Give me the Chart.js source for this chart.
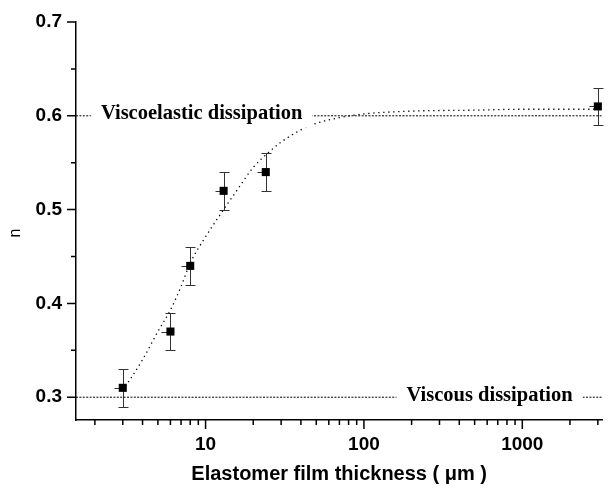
<!DOCTYPE html>
<html><head><meta charset="utf-8">
<script src="https://cdn.jsdelivr.net/npm/chart.js@4.4.0/dist/chart.umd.min.js"></script>
<style>html,body{margin:0;padding:0;background:#fff;overflow:hidden}</style>
</head><body>
<canvas id="c" width="608" height="489"></canvas>
<script>
// ---- data ----
const thickness = [3, 6, 8, 13, 24, 3000];
const nValues   = [0.31, 0.37, 0.44, 0.52, 0.54, 0.61];
const nErrors   = [0.02, 0.02, 0.02, 0.02, 0.02, 0.02];

const fitX = [3, 4, 5, 6, 7, 8, 10, 13, 16, 20, 25, 30, 40, 50, 70, 100, 200, 500, 1000, 3200];
const fitY = [0.307, 0.34, 0.37, 0.393, 0.418, 0.443, 0.471, 0.50, 0.522, 0.545, 0.561, 0.572, 0.585, 0.592, 0.598, 0.602, 0.605, 0.606, 0.607, 0.607];

const xMajorTicks = [10, 100, 1000];
const xMinorTicks = [2, 3, 4, 5, 6, 7, 8, 9, 20, 30, 40, 50, 60, 70, 80, 90, 200, 300, 400, 500, 600, 700, 800, 900, 2000, 3000];
const yMajorTicks = [0.3, 0.4, 0.5, 0.6, 0.7];
const yMinorTicks = [0.35, 0.45, 0.55, 0.65];

const refLevels = [0.6, 0.3];
const refLabels = ['Viscoelastic dissipation', 'Viscous dissipation'];
const refLabelAt = [9.44, 621];   // x value (data units) at which each label is centred

const xTitle = 'Elastomer film thickness ( μm )';
const yTitle = 'n';

const X_MIN = 1.52, X_MAX = 3200, Y_MIN = 0.2757, Y_MAX = 0.7;

// ---- plugin: error bars, reference labels, tick marks, y title ----
const decor = {
  id: 'decor',
  beforeDatasetsDraw(chart) {
    const {ctx, scales: {x, y}} = chart;
    ctx.save();
    ctx.strokeStyle = '#333';
    ctx.lineWidth = 1;
    thickness.forEach((t, i) => {
      const px = Math.round(x.getPixelForValue(t)) + 0.5;
      const py = y.getPixelForValue(nValues[i]);
      const top = Math.round(y.getPixelForValue(nValues[i] + nErrors[i])) + 0.5;
      const bot = Math.round(y.getPixelForValue(nValues[i] - nErrors[i])) + 0.5;
      ctx.beginPath();
      ctx.moveTo(px, top); ctx.lineTo(px, bot);
      ctx.moveTo(px - 5, top); ctx.lineTo(px + 5, top);
      ctx.moveTo(px - 5, bot); ctx.lineTo(px + 5, bot);
      ctx.moveTo(px - 9, Math.round(py) + 0.5); ctx.lineTo(px, Math.round(py) + 0.5);
      ctx.stroke();
    });
    ctx.restore();
  },
  afterDatasetsDraw(chart) {
    const {ctx, scales: {x, y}} = chart;
    ctx.save();
    ctx.font = 'bold 20.5px "Liberation Serif", "Times New Roman", serif';
    ctx.textAlign = 'center';
    ctx.textBaseline = 'alphabetic';
    refLabels.forEach((lab, i) => {
      const cx = x.getPixelForValue(refLabelAt[i]);
      const cy = y.getPixelForValue(refLevels[i]);
      const w = ctx.measureText(lab).width;
      ctx.fillStyle = '#fff';
      ctx.fillRect(cx - w / 2 - 10, cy - 12, w + 20, 24);
      ctx.fillStyle = '#000';
      ctx.fillText(lab, cx, cy + 3.5);
    });
    ctx.restore();
  },
  afterDraw(chart) {
    const {ctx, scales: {x, y}, chartArea: a} = chart;
    ctx.save();
    ctx.strokeStyle = '#000';
    ctx.lineWidth = 1.5;
    ctx.beginPath();
    yMajorTicks.forEach(v => { const p = y.getPixelForValue(v); ctx.moveTo(a.left - 9, p); ctx.lineTo(a.left, p); });
    yMinorTicks.forEach(v => { const p = y.getPixelForValue(v); ctx.moveTo(a.left - 5, p); ctx.lineTo(a.left, p); });
    xMajorTicks.forEach(v => { const p = x.getPixelForValue(v); ctx.moveTo(p, a.bottom); ctx.lineTo(p, a.bottom + 9); });
    xMinorTicks.forEach(v => { const p = x.getPixelForValue(v); ctx.moveTo(p, a.bottom); ctx.lineTo(p, a.bottom + 5); });
    ctx.stroke();
    // y title
    ctx.fillStyle = '#000';
    ctx.font = '16px "Liberation Sans", Arial, sans-serif';
    ctx.translate(16, 233);
    ctx.rotate(-Math.PI / 2);
    ctx.textAlign = 'center';
    ctx.textBaseline = 'middle';
    ctx.fillText(yTitle, 0, 0);
    ctx.restore();
  }
};

Chart.defaults.font.family = '"Liberation Sans", Arial, sans-serif';
Chart.defaults.color = '#000';

new Chart(document.getElementById('c'), {
  type: 'scatter',
  data: {
    datasets: [
      {
        label: 'data',
        data: thickness.map((t, i) => ({x: t, y: nValues[i]})),
        pointStyle: 'rect', pointRadius: 5.7, pointHoverRadius: 5.7,
        backgroundColor: '#000', borderColor: '#000', borderWidth: 0,
        showLine: false, clip: false, order: 0
      },
      {
        label: 'fit',
        data: fitX.map((t, i) => ({x: t, y: fitY[i]})),
        showLine: true, pointRadius: 0, borderColor: '#000', borderWidth: 1.3,
        borderDash: [1.3, 3.7], cubicInterpolationMode: 'monotone', order: 1
      },
      ...refLevels.map(v => ({
        label: 'ref' + v,
        data: [{x: X_MIN, y: v}, {x: X_MAX, y: v}],
        showLine: true, pointRadius: 0, borderColor: '#000', borderWidth: 1,
        borderDash: [2, 1.4], order: 2
      }))
    ]
  },
  options: {
    responsive: false,
    animation: false,
    events: [],
    layout: {padding: {top: 22, right: 0, left: 0, bottom: 0}},
    plugins: {legend: {display: false}, tooltip: {enabled: false}},
    scales: {
      x: {
        type: 'logarithmic', min: X_MIN, max: X_MAX,
        afterFit: s => { s.height = 69; },
        afterBuildTicks: s => { s.ticks = xMajorTicks.map(v => ({value: v})); },
        ticks: {font: {size: 19, weight: 'bold'}, padding: 4, maxRotation: 0, autoSkip: false,
                callback: v => String(v)},
        grid: {display: false, drawTicks: true, tickLength: 9},
        border: {display: true, color: '#000', width: 1.5},
        title: {display: true, text: xTitle, font: {size: 20, weight: 'bold'}, padding: {top: 0, bottom: 3}}
      },
      y: {
        min: Y_MIN, max: Y_MAX,
        afterFit: s => { s.width = 76; },
        afterBuildTicks: s => { s.ticks = yMajorTicks.map(v => ({value: v})); },
        ticks: {font: {size: 19, weight: 'bold'}, padding: 5, callback: v => v.toFixed(1)},
        grid: {display: false, drawTicks: true, tickLength: 9},
        border: {display: true, color: '#000', width: 1.5}
      }
    }
  },
  plugins: [decor]
});
</script>
</body></html>
